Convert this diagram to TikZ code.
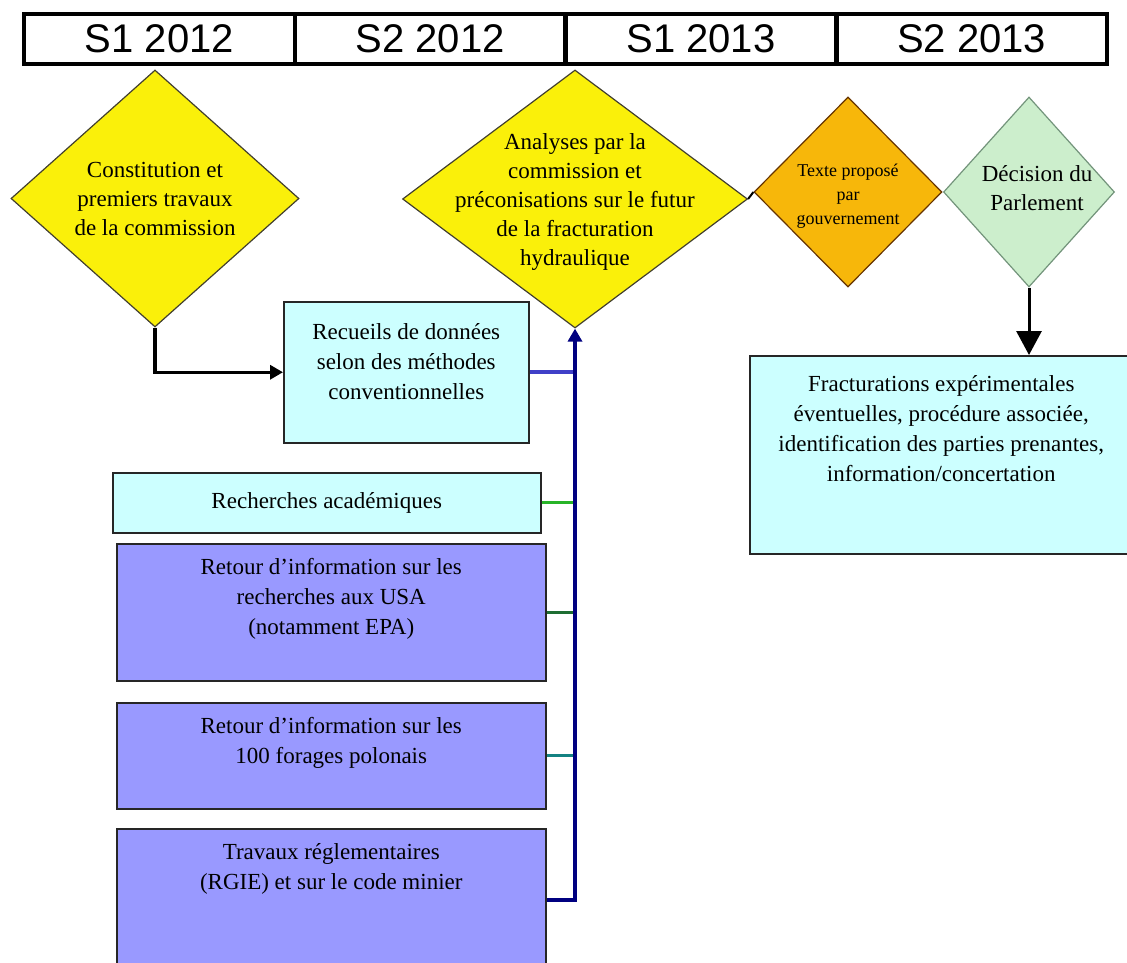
\documentclass[tikz,border=0pt]{standalone}
\usepackage{fontspec}
\setmainfont{Liberation Serif}
\newfontfamily\entetefont{Liberation Sans}
\usetikzlibrary{shapes.geometric,arrows.meta,positioning}
\definecolor{jaune}{RGB}{250,240,10}
\definecolor{orangeg}{RGB}{247,183,10}
\definecolor{vertpale}{RGB}{204,238,204}
\definecolor{cyanpale}{RGB}{204,255,255}
\definecolor{pervenche}{RGB}{153,153,255}
\definecolor{marine}{RGB}{0,0,128}
\definecolor{bleumoyen}{RGB}{64,64,200}
\definecolor{vertvif}{RGB}{40,180,40}
\definecolor{vertfonce}{RGB}{30,110,50}
\definecolor{sarcelle}{RGB}{20,130,130}
\begin{document}
\begin{tikzpicture}[x=1pt,y=-1pt,
  semestre/.style={rectangle, draw=black, line width=4.5pt, minimum width=270.75pt,
    minimum height=50pt, inner sep=0pt, font=\entetefont\fontsize{40}{40}\selectfont},
  losange/.style={diamond, draw=#1, line width=1.2pt, inner sep=0pt},
  boite/.style={rectangle, draw=black!85, line width=1.5pt, inner sep=0pt, anchor=north west},
  texte/.style={align=center, inner sep=0pt, font=\fontsize{23}{30}\selectfont},
  lien/.style={line width=#1}]
\useasboundingbox (0,0) rectangle (1127,963);

% frise des semestres
\foreach \lab [count=\i] in {S1 2012, S2 2012, S1 2013, S2 2013}
  \node[semestre] (s\i) at ({24+270.75*(\i-0.5)},39) {\lab};

% losanges
\node[losange={black!70!olive}, fill=jaune, minimum width=288pt, minimum height=257pt]
  (constitution) at (155,198.5) {};
\node[losange={black!70!olive}, fill=jaune, minimum width=345pt, minimum height=258pt]
  (analyse) at (575,199) {};
\node[losange={black!60!orange}, fill=orangeg, minimum width=188pt, minimum height=190pt]
  (texte) at (848,192) {};
\node[losange={black!30!vertfonce!60}, fill=vertpale, minimum width=171pt, minimum height=190pt]
  (decision) at (1029,192) {};

\node[texte, font=\fontsize{23}{29}\selectfont] (t-constitution) at (constitution.center)
  {Constitution et\\premiers travaux\\de la commission};
\node[texte, font=\fontsize{23}{29}\selectfont] (t-analyse) at ([yshift=-3pt]analyse.center)
  {Analyses par la\\commission et\\préconisations sur le futur\\de la fracturation\\hydraulique};
\node[texte, font=\fontsize{18}{24}\selectfont] (t-texte) at ([yshift=-4pt]texte.center)
  {Texte proposé\\par\\gouvernement};
\node[texte, font=\fontsize{23}{29}\selectfont] (t-decision) at ([xshift=8pt,yshift=4pt]decision.center)
  {Décision du\\Parlement};

% boites
\node[boite, fill=cyanpale, minimum width=245pt, minimum height=141pt] (recueil) at (283,301) {};
\node[boite, fill=cyanpale, minimum width=428pt, minimum height=60pt] (recherche) at (112,472) {};
\node[boite, fill=pervenche, minimum width=429pt, minimum height=137pt] (retourusa) at (116,543) {};
\node[boite, fill=pervenche, minimum width=429pt, minimum height=106pt] (retourpl) at (116,702) {};
\node[boite, fill=pervenche, minimum width=429pt, minimum height=142pt] (travaux) at (116,828) {};
\node[boite, fill=cyanpale, minimum width=383pt, minimum height=198pt] (fractu) at (749,355) {};

\node[texte, below=22pt of recueil.north] (t-recueil)
  {Recueils de données\\selon des méthodes\\conventionnelles};
\node[texte] (t-recherche) at (recherche.center) {Recherches académiques};
\node[texte, below=15pt of retourusa.north] (t-retourusa)
  {Retour d’information sur les\\recherches aux USA\\(notamment EPA)};
\node[texte, below=15pt of retourpl.north] (t-retourpl)
  {Retour d’information sur les\\100 forages polonais};
\node[texte, below=15pt of travaux.north] (t-travaux)
  {Travaux réglementaires\\(RGIE) et sur le code minier};
\node[texte, below=20pt of fractu.north] (t-fractu)
  {Fracturations expérimentales\\éventuelles, procédure associée,\\identification des parties prenantes,\\information/concertation};

% liaisons
\draw[lien=3.5pt, -{Triangle[width=14pt,length=13pt]}] (constitution.south) |- (recueil.west);
\draw[lien=2pt] (analyse.east) -- (texte.west);
\draw[lien=3pt, -{Triangle[width=25pt,length=24pt]}] (decision.south) -- (decision.south |- fractu.north);
\draw[bleumoyen, lien=4pt] (recueil.east) -- (recueil.east -| analyse.south);
\draw[vertvif, lien=3pt] (recherche.east) -- (recherche.east -| analyse.south);
\draw[vertfonce, lien=3pt] (retourusa.east) -- (retourusa.east -| analyse.south);
\draw[sarcelle, lien=3pt] (retourpl.east) -- (retourpl.east -| analyse.south);
\draw[marine, lien=4pt, -{Triangle[width=14pt,length=13pt]}] (travaux.east) -| (analyse.south);
\end{tikzpicture}
\end{document}
